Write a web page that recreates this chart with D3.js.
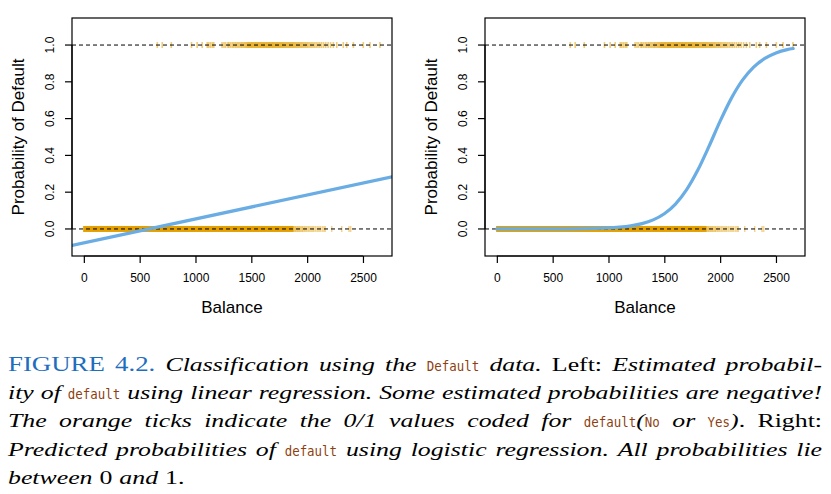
<!DOCTYPE html>
<html>
<head>
<meta charset="utf-8">
<script src="https://cdn.jsdelivr.net/npm/d3@7/dist/d3.min.js"></script>
<style>
  html, body { margin: 0; padding: 0; background: #fff; }
  svg { display: block; }
</style>
</head>
<body>
<svg id="chart" width="831" height="494"></svg>
<script>
// ---------------- data ----------------
const xTicks = [0, 500, 1000, 1500, 2000, 2500];
const xTickLabels = ["0", "500", "1000", "1500", "2000", "2500"];
const yTicks = [0.0, 0.2, 0.4, 0.6, 0.8, 1.0];
const yTickLabels = ["0.0", "0.2", "0.4", "0.6", "0.8", "1.0"];
const refLevels = [0, 1];

// balances of defaulters (default = Yes) shown as rug at 1
const yesBalances = [658, 702, 783, 964, 1015, 1060, 1105, 1118, 1134, 1150, 1164, 1238, 1255, 1270, 1290, 1300, 1315, 1330, 1342, 1356, 1368, 1380, 1392, 1405, 1414, 1425, 1436, 1446, 1455, 1463, 1471, 1478, 1485, 1492, 1499, 1506, 1512, 1519, 1526, 1533, 1540, 1546, 1553, 1560, 1566, 1573, 1580, 1586, 1593, 1600, 1607, 1613, 1620, 1627, 1634, 1640, 1647, 1654, 1660, 1667, 1674, 1681, 1688, 1694, 1701, 1708, 1715, 1722, 1729, 1736, 1743, 1750, 1757, 1764, 1771, 1778, 1785, 1792, 1800, 1808, 1816, 1824, 1832, 1840, 1848, 1856, 1864, 1872, 1880, 1889, 1898, 1907, 1916, 1925, 1935, 1945, 1955, 1966, 1977, 1988, 2000, 2012, 2025, 2038, 2052, 2066, 2081, 2097, 2113, 2130, 2148, 2167, 2188, 2210, 2235, 2265, 2324, 2354, 2414, 2503, 2563, 2652];

// non-defaulters (default = No): a solid dense stretch plus a sparse tail
const noDenseRange = [0, 1880];
const noTail = [1885, 1893, 1900, 1910, 1918, 1927, 1935, 1945, 1955, 1962, 1975, 1985, 1997, 2010, 2022, 2035, 2048, 2060, 2075, 2090, 2105, 2118, 2135, 2150, 2162, 2220, 2310, 2375, 2390];

// linear regression fit (end points)
const linearFit = [ {b: -106, p: -0.089}, {b: 2760, p: 0.283} ];

// logistic regression fit
const logisticBalance = [0, 500, 1000, 1100, 1200, 1300, 1400, 1500, 1600, 1700, 1800, 1900, 2000, 2100, 2200, 2300, 2400, 2500, 2600, 2654];
const logisticProb    = [0.00002, 0.0004, 0.0058, 0.0099, 0.0171, 0.0292, 0.0496, 0.083, 0.1355, 0.2136, 0.320, 0.449, 0.586, 0.710, 0.809, 0.880, 0.927, 0.957, 0.975, 0.981];

// ---------------- drawing ----------------
const svg = d3.select("#chart");
const ORANGE = "#E4A000";
const BLUE = "#69ADE4";
const plotTop = 18, plotBottom = 256;

const panels = [
  { id: "L", x0: 72, x1: 392, fit: "linear" },
  { id: "R", x0: 485, x1: 805, fit: "logistic" }
];

panels.forEach(pn => {
  const x = d3.scaleLinear().domain([-106, 2760]).range([pn.x0, pn.x1]);
  const y = d3.scaleLinear().domain([-0.147, 1.147]).range([plotBottom, plotTop]);
  const g = svg.append("g");

  g.append("clipPath").attr("id", "clip" + pn.id)
    .append("rect").attr("x", pn.x0).attr("y", plotTop)
    .attr("width", pn.x1 - pn.x0).attr("height", plotBottom - plotTop);

  const plot = g.append("g").attr("clip-path", `url(#clip${pn.id})`);

  // rug: No at 0
  plot.append("rect")
    .attr("x", x(noDenseRange[0]) - 0.7)
    .attr("width", x(noDenseRange[1]) - x(noDenseRange[0]) + 0.7)
    .attr("y", y(0) - 3).attr("height", 6)
    .attr("fill", ORANGE);
  plot.selectAll("line.no").data(noTail).join("line").attr("class", "no")
    .attr("x1", d => x(d)).attr("x2", d => x(d))
    .attr("y1", y(0) - 3).attr("y2", y(0) + 3)
    .attr("stroke", ORANGE).attr("stroke-width", 1.5).attr("stroke-opacity", 0.45);
  // rug: Yes at 1
  plot.selectAll("line.yes").data(yesBalances).join("line").attr("class", "yes")
    .attr("x1", d => x(d)).attr("x2", d => x(d))
    .attr("y1", y(1) - 3).attr("y2", y(1) + 3)
    .attr("stroke", ORANGE).attr("stroke-width", 1.6).attr("stroke-opacity", 0.55);

  // dashed reference lines
  plot.selectAll("line.ref").data(refLevels).join("line").attr("class", "ref")
    .attr("x1", pn.x0).attr("x2", pn.x1)
    .attr("y1", d => y(d)).attr("y2", d => y(d))
    .attr("stroke", "#000").attr("stroke-width", 1).attr("stroke-dasharray", "4,3");

  // fit
  let pts;
  if (pn.fit === "linear") pts = linearFit.map(d => [d.b, d.p]);
  else pts = logisticBalance.map((b, i) => [b, logisticProb[i]]);
  const line = d3.line().x(d => x(d[0])).y(d => y(d[1]))
    .curve(pn.fit === "linear" ? d3.curveLinear : d3.curveMonotoneX);
  plot.append("path").attr("d", line(pts))
    .attr("fill", "none").attr("stroke", BLUE).attr("stroke-width", 3.2)
    .attr("stroke-linecap", "round");

  // box
  g.append("rect").attr("x", pn.x0).attr("y", plotTop)
    .attr("width", pn.x1 - pn.x0).attr("height", plotBottom - plotTop)
    .attr("fill", "none").attr("stroke", "#000").attr("stroke-width", 1.2);

  // x axis
  const xa = g.append("g").attr("transform", `translate(0,${plotBottom})`)
    .call(d3.axisBottom(x).tickValues(xTicks).tickSize(7).tickPadding(8).tickSizeOuter(0)
      .tickFormat((d, i) => xTickLabels[i]));
  xa.select(".domain").attr("d", `M${x(xTicks[0])},0H${x(xTicks[xTicks.length-1])}`).attr("stroke-width", 1.2);
  xa.selectAll("line").attr("stroke-width", 1.2);
  xa.selectAll("text").attr("font-family", "Liberation Sans, Arial, sans-serif")
    .attr("font-size", 12).attr("fill", "#000").attr("dy", "0.9em");

  // y axis
  const ya = g.append("g").attr("transform", `translate(${pn.x0},0)`)
    .call(d3.axisLeft(y).tickValues(yTicks).tickSize(7).tickSizeOuter(0)
      .tickFormat((d, i) => yTickLabels[i]));
  ya.select(".domain").attr("d", `M0,${y(yTicks[0])}V${y(yTicks[yTicks.length-1])}`).attr("stroke-width", 1.2);
  ya.selectAll("line").attr("stroke-width", 1.2);
  ya.selectAll(".tick").attr("transform", null);
  ya.selectAll(".tick line").attr("y1", d => y(d)).attr("y2", d => y(d));
  ya.selectAll(".tick text")
    .attr("font-family", "Liberation Sans, Arial, sans-serif").attr("font-size", 12).attr("fill", "#000")
    .attr("x", null).attr("dy", null).attr("dominant-baseline", "auto")
    .attr("text-anchor", "middle")
    .attr("transform", d => `translate(-18,${y(d)}) rotate(-90)`);

  // axis titles
  g.append("text").attr("x", (pn.x0 + pn.x1) / 2).attr("y", 313)
    .attr("text-anchor", "middle").attr("font-family", "Liberation Sans, Arial, sans-serif")
    .attr("font-size", 17).text("Balance");
  g.append("text")
    .attr("transform", `translate(${pn.x0 - 48},${(plotTop + plotBottom) / 2}) rotate(-90)`)
    .attr("text-anchor", "middle").attr("font-family", "Liberation Sans, Arial, sans-serif")
    .attr("font-size", 17).text("Probability of Default");
});

// ---------------- caption ----------------
const BLUECAP = "#1E6EBE", BROWN = "#8E3F12";
const SERIF = "Liberation Serif, serif", MONO = "DejaVu Sans Mono, Liberation Mono, monospace";
function W(s) { return s.split(" ").map(w => [["i", w]]); }
const captionLines = [
  [[["b", "FIGURE"]], [["b", "4.2."]], ...W("Classification using the"), [["m", "Default"]], [["i", "data."]], [["r", "Left:"]], ...W("Estimated probabil-")],
  [...W("ity of"), [["m", "default"]], ...W("using linear regression. Some estimated probabilities are negative!")],
  [...W("The orange ticks indicate the 0/1 values coded for"), [["m", "default"], ["i", "("], ["m", "No"]], [["i", "or"]], [["m", "Yes"], ["i", ")"], ["r", "."]], [["r", "Right:"]]],
  [...W("Predicted probabilities of"), [["m", "default"]], ...W("using logistic regression. All probabilities lie")],
  [[["i", "between"]], [["r", "0"]], [["i", "and"]], [["r", "1."]]]
];
const capLeft = 8, capRight = 822, capTop = 371, capLH = 28.2;
const serifSize = 19.2;      // cap height ~12.7 px
const monoSize = 14.8;       // cap height ~10.8 px
const monoSX = 7.5 / (0.602 * monoSize); // monospace advance ~7.5 px per character
const cap = svg.append("g");

// a piece is drawn as its own text node with a horizontal scale
function piece(style, txt, sxSerif) {
  const gg = cap.append("g");
  const t = gg.append("text").attr("x", 0).attr("y", 0).text(txt);
  let sx;
  if (style === "m") { t.attr("font-family", MONO).attr("font-size", monoSize).attr("fill", BROWN); sx = monoSX; }
  else {
    t.attr("font-family", SERIF).attr("font-size", style === "b" ? serifSize * 1.04 : serifSize)
      .attr("font-style", style === "i" ? "italic" : "normal")
      .attr("fill", style === "b" ? BLUECAP : "#000");
    sx = sxSerif;
  }
  return { g: gg, w: t.node().getComputedTextLength() * sx, sx };
}
// calibrate serif horizontal scale on line 2 (fully justified, normal spacing)
let serifSX = 1;
{
  let serifW = 0, monoW = 0;
  captionLines[1].forEach(parts => parts.forEach(([s, txt]) => {
    const p = piece(s, txt, 1);
    if (s === "m") monoW += p.w; else serifW += p.w;
    p.g.remove();
  }));
  const gaps = captionLines[1].length - 1;
  const gapNat = 0.27 * serifSize;
  serifSX = (capRight - capLeft - monoW) / (serifW + gaps * gapNat);
}

captionLines.forEach((words, li) => {
  const yb = capTop + li * capLH;
  const built = words.map(parts => {
    const ps = parts.map(([s, txt]) => piece(s, txt, serifSX));
    return { ps, w: d3.sum(ps, p => p.w) };
  });
  const total = d3.sum(built, d => d.w);
  const last = li === captionLines.length - 1;
  const gap = last ? 0.27 * serifSize * serifSX : (capRight - capLeft - total) / (built.length - 1);
  let cx = capLeft;
  built.forEach(wd => {
    wd.ps.forEach(p => {
      p.g.attr("transform", `translate(${cx},${yb}) scale(${p.sx},1)`);
      cx += p.w;
    });
    cx += gap;
  });
});
</script>
</body>
</html>
